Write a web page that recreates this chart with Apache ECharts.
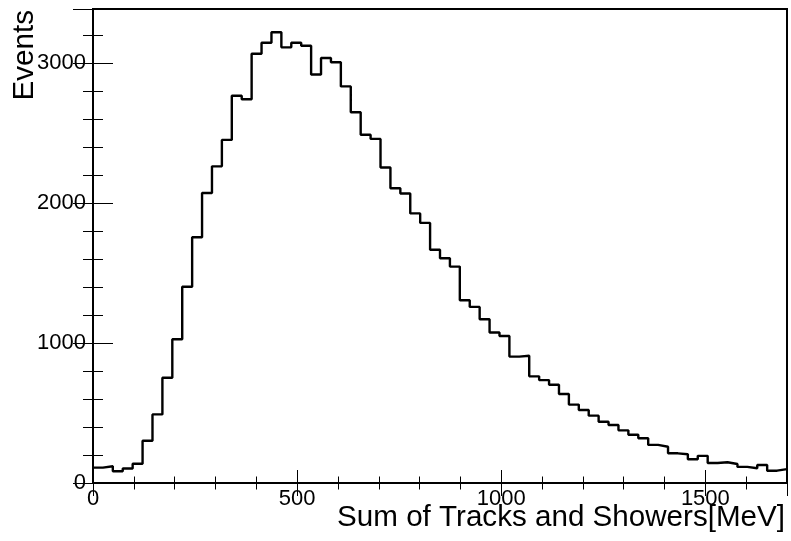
<!DOCTYPE html>
<html>
<head>
<meta charset="utf-8">
<title>Sum of Tracks and Showers</title>
<script src="https://cdn.jsdelivr.net/npm/echarts@6.0.0/dist/echarts.min.js"></script>
<style>
    html, body { margin: 0; padding: 0; background: #fff; }
    #chart { width: 791px; height: 541px; }
</style>
</head>
<body>
<div id="chart"></div>
<script>
// histogram range and contents (70 bins, 0 - 1700 MeV)
var xRange = [0, 1700];
var yRange = [0, 3386];
var counts = [
    110, 120, 84, 104, 137, 302, 490, 752, 1027, 1402,
    1755, 2072, 2262, 2451, 2766, 2741, 3066, 3145, 3220, 3112,
    3145, 3124, 2918, 3036, 3006, 2833, 2648, 2488, 2458, 2254,
    2106, 2068, 1926, 1858, 1666, 1606, 1546, 1306, 1258, 1170,
    1075, 1050, 903, 909, 762, 735, 702, 636, 560, 522,
    481, 438, 414, 376, 345, 320, 272, 259, 212, 205,
    170, 194, 143, 148, 136, 115, 105, 129, 88, 99
];
var xTickLabels = ['0', '500', '1000', '1500'];
var yTickLabels = ['0', '1000', '2000', '3000'];
var xTitle = 'Sum of Tracks and Showers[MeV]';
var yTitle = 'Events';

var FONT = 'Liberation Sans, Arial, Helvetica, sans-serif';

function labelFormatter(list) {
    return function (v) {
        var s = String(Math.round(v));
        return list.indexOf(s) >= 0 ? s : '';
    };
}

// one axis per side and tick size (ROOT draws ticks on all four sides)
function xAxisFor(position, interval, len, withLabels) {
    return {
        type: 'value', position: position, min: xRange[0], max: xRange[1], interval: interval,
        axisLine: { show: false },
        splitLine: { show: false },
        axisTick: { show: true, inside: true, length: len, lineStyle: { color: '#000', width: 1 } },
        axisLabel: {
            show: withLabels, margin: 5, color: '#000', fontSize: 22, fontFamily: FONT,
            formatter: labelFormatter(xTickLabels)
        }
    };
}
function yAxisFor(position, interval, len, withLabels) {
    return {
        type: 'value', position: position, min: yRange[0], max: yRange[1], interval: interval,
        axisLine: { show: false },
        splitLine: { show: false },
        axisTick: { show: true, inside: true, length: len, lineStyle: { color: '#000', width: 1 } },
        axisLabel: {
            show: withLabels, margin: 7, color: '#000', fontSize: 22, fontFamily: FONT,
            formatter: labelFormatter(yTickLabels)
        }
    };
}

var binWidth = (xRange[1] - xRange[0]) / counts.length;
var steps = [];
for (var i = 0; i < counts.length; ++i) {
    steps.push([xRange[0] + i * binWidth, counts[i]]);
}
steps.push([xRange[1], counts[counts.length - 1]]);

var option = {
    animation: false,
    backgroundColor: '#fff',
    grid: {
        left: 93, right: 4, top: 9, bottom: 58,
        containLabel: false,
        outerBoundsMode: 'none',
        show: true, borderColor: '#000', borderWidth: 2, backgroundColor: 'transparent'
    },
    xAxis: [
        xAxisFor('bottom', 500, 13, true),
        xAxisFor('bottom', 100, 6.5, false),
        xAxisFor('top', 500, 13, false),
        xAxisFor('top', 100, 6.5, false)
    ],
    yAxis: [
        yAxisFor('left', 1000, 20, true),
        yAxisFor('left', 200, 10, false),
        yAxisFor('right', 1000, 20, false),
        yAxisFor('right', 200, 10, false)
    ],
    graphic: [
        {
            type: 'text', x: 785, y: 518, z: 10,
            style: { text: xTitle, font: '29.6px ' + FONT, fill: '#000', align: 'right', verticalAlign: 'middle' }
        },
        {
            type: 'text', x: 25, y: 10, rotation: Math.PI / 2, z: 10,
            style: { text: yTitle, font: '29.6px ' + FONT, fill: '#000', align: 'right', verticalAlign: 'middle' }
        }
    ],
    series: [
        {
            type: 'line',
            step: 'end',
            xAxisIndex: 0,
            yAxisIndex: 0,
            showSymbol: false,
            clip: true,
            lineStyle: { color: '#000', width: 2.4 },
            data: steps
        }
    ]
};

echarts.init(document.getElementById('chart'), null, { renderer: 'canvas' }).setOption(option);
</script>
</body>
</html>
